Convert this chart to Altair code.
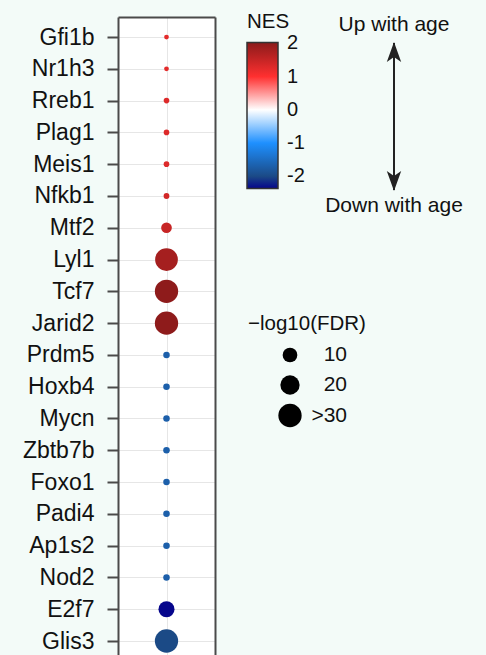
import altair as alt
import pandas as pd

# Transcription factor enrichment: normalised enrichment score and significance
genes = ["Gfi1b", "Nr1h3", "Rreb1", "Plag1", "Meis1", "Nfkb1", "Mtf2", "Lyl1", "Tcf7", "Jarid2",
         "Prdm5", "Hoxb4", "Mycn", "Zbtb7b", "Foxo1", "Padi4", "Ap1s2", "Nod2", "E2f7", "Glis3"]
nes = [1.25, 1.25, 1.3, 1.3, 1.3, 1.4, 1.5, 1.8, 2.0, 2.0,
       -1.7, -1.7, -1.7, -1.7, -1.7, -1.7, -1.7, -1.7, -2.37, -2.0]
neg_log10_fdr = [1.3, 1.3, 1.7, 1.7, 1.7, 1.8, 5.4, 28.4, 31.0, 31.0,
                 2.2, 2.2, 2.2, 2.2, 2.2, 2.2, 2.2, 2.2, 12.6, 35.0]

# colour ramp stops for NES
nes_stops = [-2.37, -2.0, -1.0, 0.0, 1.0, 2.03]
nes_colors = ["#06068c", "#1b4a86", "#1e90ff", "#ffffff", "#ff3030", "#8b1a1a"]
nes_ticks = [2, 1, 0, -1, -2]

# size ramp stops for -log10(FDR) (area in px^2), capped at 30
fdr_stops = [1, 10, 20, 30]
fdr_area = [16, 216, 372, 543]
fdr_ticks = [10, 20, 30]

df = pd.DataFrame({
    "gene": genes,
    "row": list(range(len(genes))),
    "pos": [1] * len(genes),
    "nes": nes,
    "fdr": neg_log10_fdr,
})

PLOT_W, PLOT_H = 97, 638
y_domain = [-0.63, 19.44]
frame_col = "#4a4a4a"
label_expr = "[" + ",".join(f"'{g}'" for g in genes) + "][datum.value]"
# plain hyphen for negatives; a non-breaking space keeps positives lined up on the right
nes_label_expr = "datum.value < 0 ? '-' + abs(datum.value) : '\u00a0' + datum.value"
y_scale = alt.Scale(domain=y_domain, reverse=True, nice=False, zero=False)

points = alt.Chart(df).mark_circle(opacity=1).encode(
    x=alt.X("pos:Q",
            scale=alt.Scale(domain=[0, 2], nice=False, zero=False),
            axis=alt.Axis(orient="top", values=[1], labels=False, ticks=False, title=None,
                          grid=True, gridColor="#e6e6e6", gridWidth=1,
                          domainColor=frame_col, domainWidth=2)),
    y=alt.Y("row:Q", scale=y_scale,
            axis=alt.Axis(values=list(range(len(genes))), labelExpr=label_expr, title=None,
                          labelFontSize=23, labelColor="#111111", labelPadding=13,
                          labelOverlap=False, labelFlush=False,
                          tickSize=11, tickWidth=2, tickColor=frame_col,
                          domainColor=frame_col, domainWidth=2,
                          grid=True, gridColor="#e6e6e6", gridWidth=1)),
    color=alt.Color("nes:Q",
                    scale=alt.Scale(domain=nes_stops, range=nes_colors, interpolate="rgb"),
                    legend=alt.Legend(title="NES", orient="none", legendX=129, legendY=-5,
                                      direction="vertical", gradientLength=146,
                                      gradientThickness=31, gradientStrokeColor="#333333",
                                      gradientStrokeWidth=1.5, values=nes_ticks,
                                      labelExpr=nes_label_expr, labelOverlap=False,
                                      labelOffset=9,
                                      labelFontSize=20, labelColor="#111111",
                                      titleFontSize=20.5, titleFontWeight="normal",
                                      titleColor="#111111", titlePadding=10, padding=0)),
    size=alt.Size("fdr:Q",
                  scale=alt.Scale(domain=fdr_stops, range=fdr_area, clamp=True),
                  legend=alt.Legend(title="\u2212log10(FDR)", orient="none", legendX=130,
                                    legendY=297, values=fdr_ticks,
                                    labelExpr="datum.value >= 30 ? '>30' : datum.label",
                                    symbolType="circle", symbolFillColor="black",
                                    symbolStrokeWidth=0, symbolOpacity=1, symbolOffset=30,
                                    labelAlign="right", labelOffset=45,
                                    labelFontSize=21, labelColor="#111111",
                                    titleFontSize=20.5, titleFontWeight="normal",
                                    titleColor="#111111", titlePadding=10,
                                    rowPadding=8, padding=0)),
)

# right-hand edge of the panel frame
right_edge = alt.Chart(df).mark_point(opacity=0).encode(
    y=alt.Y("row:Q", scale=y_scale,
            axis=alt.Axis(orient="right", labels=False, ticks=False, grid=False, title=None,
                          domainColor=frame_col, domainWidth=2)),
)

one = pd.DataFrame({"k": [0]})
arrow_x = 276

arrow_line = alt.Chart(one).mark_rule(color="#222222", strokeWidth=2).encode(
    x=alt.value(arrow_x), y=alt.value(26), y2=alt.value(173))

head_path = "M0,-1L0.72,1L0,0.5L-0.72,1Z"
head_up = alt.Chart(one).mark_point(shape=head_path, filled=True, color="#222222",
                                    opacity=1, size=400).encode(
    x=alt.value(arrow_x), y=alt.value(35))
head_down = alt.Chart(one).mark_point(shape=head_path, filled=True, color="#222222",
                                      opacity=1, size=400, angle=180).encode(
    x=alt.value(arrow_x), y=alt.value(164))

up_text = alt.Chart(one).mark_text(text="Up with age", fontSize=21, align="center",
                                   baseline="alphabetic", color="#111111").encode(
    x=alt.value(arrow_x), y=alt.value(14))
down_text = alt.Chart(one).mark_text(text="Down with age", fontSize=21, align="center",
                                     baseline="alphabetic", color="#111111").encode(
    x=alt.value(arrow_x), y=alt.value(195))

chart = alt.layer(points, right_edge, arrow_line, head_up, head_down, up_text, down_text).resolve_scale(
    y="independent"
).properties(
    width=PLOT_W, height=PLOT_H,
    autosize=alt.AutoSizeParams(type="none"),
    padding={"left": 118, "top": 17, "right": 271, "bottom": 0},
).configure(
    background="#f3fbf8",
    font="Liberation Sans",
).configure_view(
    fill="white", stroke=None,
)

chart.save("out.html", embed_options={"renderer": "svg", "actions": False})
